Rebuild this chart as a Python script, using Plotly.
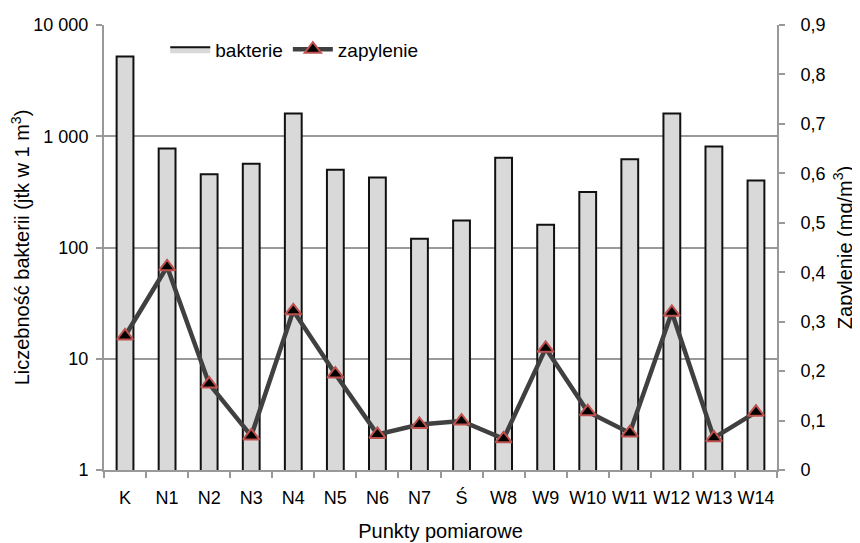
import plotly.graph_objects as go

categories = ["K", "N1", "N2", "N3", "N4", "N5", "N6", "N7", "Ś", "W8", "W9", "W10", "W11", "W12", "W13", "W14"]
bakterie = [5200, 775, 455, 565, 1600, 500, 425, 120, 175, 640, 160, 316, 620, 1600, 810, 400]
zapylenie = [0.271, 0.411, 0.174, 0.069, 0.322, 0.194, 0.072, 0.092, 0.099, 0.063, 0.246, 0.118, 0.075, 0.319, 0.065, 0.117]
left_tickvals = [1, 10, 100, 1000, 10000]
left_ticktext = ["1", "10", "100", "1 000", "10 000"]

FONT = "Liberation Sans, Arial, sans-serif"
GRID = "#999999"
TICK_SIZE = 18
TITLE_SIZE = 20
BAR_FILL = "#d9d9d9"
BAR_EDGE = "#111111"

fig = go.Figure()
fig.add_trace(go.Bar(
    x=categories, y=bakterie, name="bakterie", showlegend=False,
    marker=dict(color=BAR_FILL, line=dict(color=BAR_EDGE, width=2)),
    yaxis="y",
))
# legend-only stand-in so the legend shows a wide filled box like the reference
fig.add_trace(go.Scatter(
    x=[None], y=[None], name="bakterie", mode="lines", fill="toself",
    fillcolor=BAR_FILL, line=dict(color=BAR_EDGE, width=2),
    yaxis="y", hoverinfo="skip",
))
fig.add_trace(go.Scatter(
    x=categories, y=zapylenie, name="zapylenie", mode="lines+markers",
    line=dict(color="#404040", width=4.5),
    marker=dict(symbol="triangle-up", size=14, color="#000000",
                line=dict(color="#c0504d", width=2)),
    yaxis="y2",
))

fig.update_layout(
    width=860, height=543,
    margin=dict(l=96, r=91, t=17, b=81),
    paper_bgcolor="white", plot_bgcolor="white",
    font=dict(family=FONT, size=TICK_SIZE, color="#000000"),
    separators=", ",
    bargap=0.6,
    showlegend=True,
    legend=dict(orientation="h", x=0.091, y=0.988, xanchor="left", yanchor="top",
                bgcolor="rgba(0,0,0,0)", font=dict(size=19), itemwidth=40,
                tracegroupgap=0),
    xaxis=dict(
        type="category", range=[-0.5, 15.5],
        showline=True, linecolor=GRID, linewidth=2,
        ticks="outside", tickson="boundaries", ticklen=6, tickcolor=GRID, tickwidth=2,
        ticklabelstandoff=10,
        showgrid=False, tickangle=0, automargin=False,
        title=dict(text="Punkty pomiarowe", font=dict(size=TITLE_SIZE), standoff=17),
    ),
    yaxis=dict(
        type="log", range=[0, 4], tickvals=left_tickvals, ticktext=left_ticktext,
        showline=True, linecolor=GRID, linewidth=2,
        ticks="outside", ticklen=6, tickcolor=GRID, tickwidth=2,
        ticklabelstandoff=4,
        showgrid=True, gridcolor=GRID, gridwidth=2,
        zeroline=False, automargin=False,
        title=dict(text="Liczebność bakterii (jtk w 1 m<sup>3</sup>)", font=dict(size=TITLE_SIZE), standoff=0),
    ),
    yaxis2=dict(
        overlaying="y", side="right", range=[0, 0.9], dtick=0.1, tick0=0,
        showline=True, linecolor=GRID, linewidth=2,
        ticks="outside", ticklen=6, tickcolor=GRID, tickwidth=2,
        ticklabelstandoff=12,
        showgrid=False, zeroline=False, automargin=False,
        title=dict(text="Zapylenie (mg/m<sup>3</sup>)", font=dict(size=TITLE_SIZE), standoff=13),
    ),
)

fig.write_html("out.html")
